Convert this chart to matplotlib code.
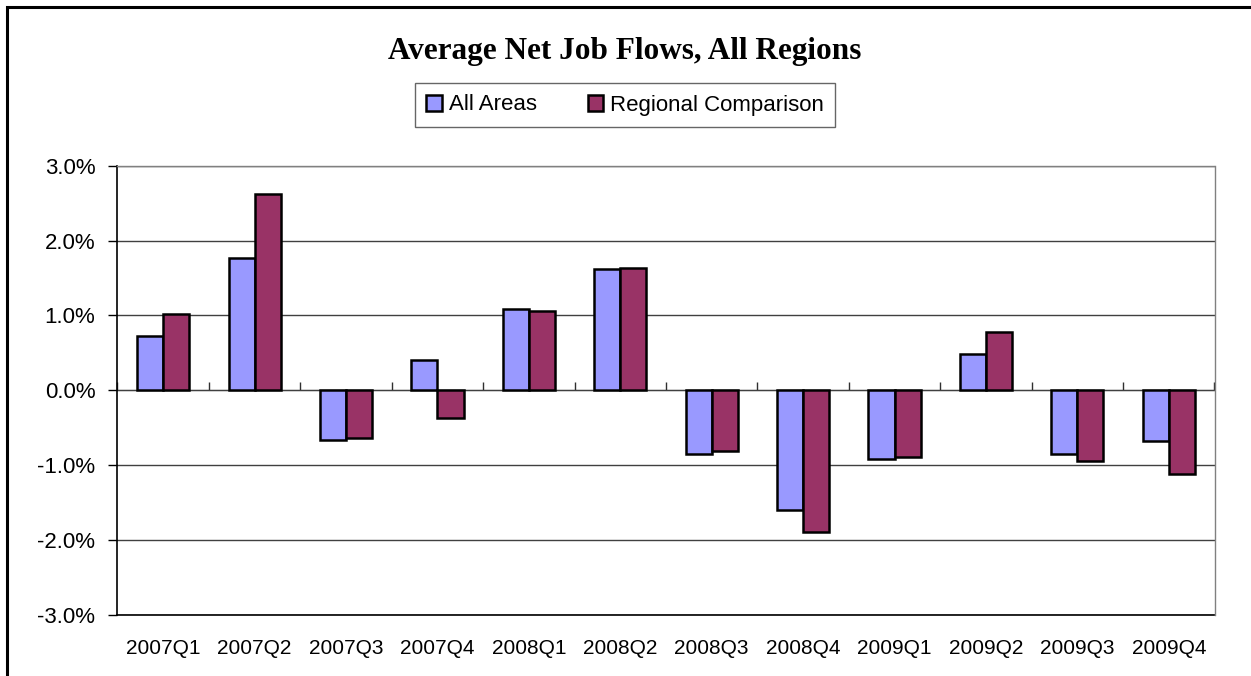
import matplotlib
matplotlib.use("Agg")
import matplotlib.pyplot as plt
from matplotlib.patches import Rectangle
import numpy as np

quarters = ["2007Q1", "2007Q2", "2007Q3", "2007Q4", "2008Q1", "2008Q2",
            "2008Q3", "2008Q4", "2009Q1", "2009Q2", "2009Q3", "2009Q4"]
all_areas = [0.72, 1.77, -0.66, 0.40, 1.09, 1.62, -0.85, -1.60, -0.92, 0.49, -0.85, -0.67]
regional = [1.02, 2.62, -0.64, -0.37, 1.06, 1.63, -0.81, -1.89, -0.89, 0.78, -0.94, -1.12]
yticks = [-3, -2, -1, 0, 1, 2, 3]

W, H = 1251, 676
fig = plt.figure(figsize=(W / 100, H / 100), dpi=100)
fig.patch.set_facecolor("white")

# outer chart border (only top/left visible)
fig.patches.append(Rectangle((7 / W, -0.1), 1.2, 1 - 7 / H + 0.1, transform=fig.transFigure,
                             fill=False, edgecolor="black", linewidth=2.2))

left, right, top, bottom = 117.5, 1214.5, 165.7, 615
ax = fig.add_axes([left / W, 1 - bottom / H, (right - left) / W, (bottom - top) / H])

x = np.arange(len(quarters))
bw = 1 / 3.5
ax.bar(x - bw / 2, all_areas, bw, color="#9999FF", edgecolor="black", linewidth=1.8,
       label="All Areas", zorder=3)
ax.bar(x + bw / 2, regional, bw, color="#993366", edgecolor="black", linewidth=1.8,
       label="Regional Comparison", zorder=3)

ax.set_xlim(-0.5, len(quarters) - 0.5)
ax.set_ylim(-3, 3)
ax.set_yticks(yticks)
ax.set_yticklabels([f"{v:.1f}%" for v in yticks], fontsize=16, family="Liberation Sans")
ax.yaxis.grid(True, color="#404040", linewidth=1.0, zorder=1)
ax.tick_params(axis="y", direction="out", length=6.5, width=1, pad=9.5, color="black")

ax.set_xticks(x)
ax.set_xticklabels(quarters, fontsize=15, family="Liberation Sans")
ax.tick_params(axis="x", length=0, pad=17)

for side in ["top", "right"]:
    ax.spines[side].set_color("#808080")
    ax.spines[side].set_linewidth(1.0)
ax.spines["left"].set_color("black")
ax.spines["bottom"].set_color("black")
ax.spines["left"].set_linewidth(1.2)
ax.spines["bottom"].set_linewidth(1.2)

# zero line with category separators
zero = ax.secondary_xaxis(0.5)
zero.set_xticks(np.arange(len(quarters) + 1) - 0.5)
zero.set_xticklabels([])
zero.tick_params(direction="out", length=6, width=1, color="#303030")
zero.spines["bottom"].set_color("#404040")
zero.spines["bottom"].set_linewidth(1.0)

fig.text(625 / W, 1 - 52 / H, "Average Net Job Flows, All Regions", ha="center", va="center",
         fontsize=22.5, fontweight="bold", family="Liberation Serif")

leg = fig.legend(loc="center", bbox_to_anchor=(625 / W, 1 - 105 / H), ncol=2,
                 prop={"family": "Liberation Sans", "size": 16}, frameon=True, fancybox=False,
                 handlelength=0.7, handleheight=0.7, handletextpad=0.3, columnspacing=2.3,
                 borderpad=0.5, borderaxespad=0)
leg.get_frame().set_edgecolor("#404040")
leg.get_frame().set_linewidth(1.0)

fig.savefig("out.png", dpi=100)
